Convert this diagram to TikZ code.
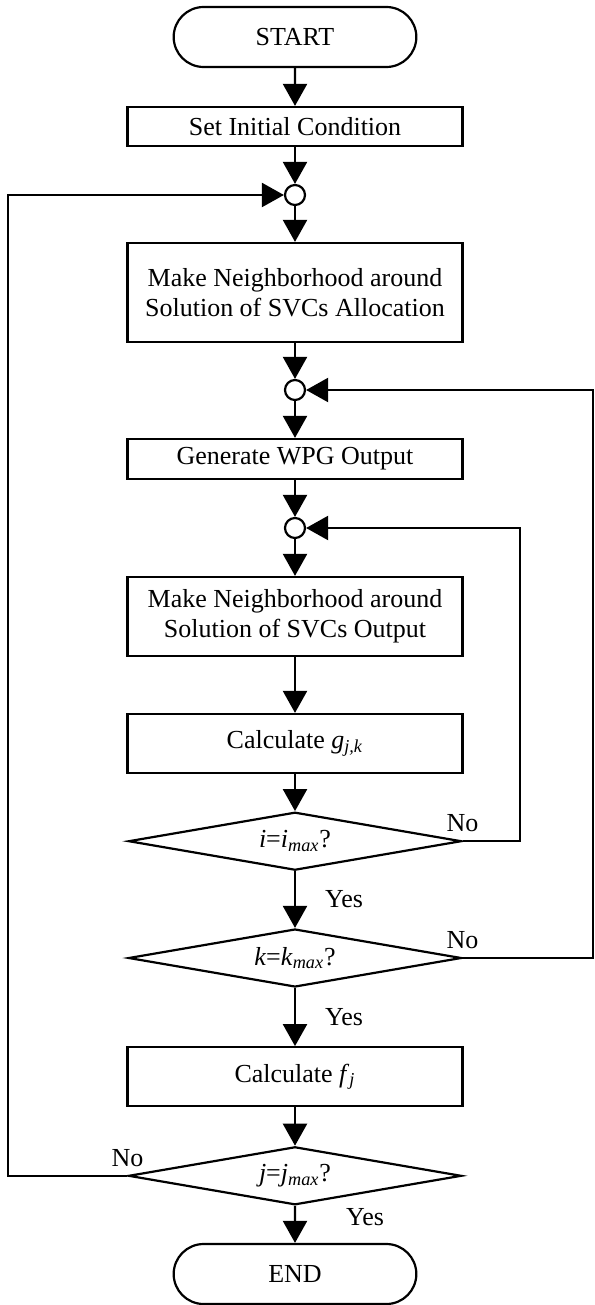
\documentclass[tikz,border=0pt]{standalone}
\usepackage{fontspec}
\setmainfont{Liberation Serif}
\usetikzlibrary{positioning,shapes.misc,shapes.geometric,arrows.meta}

\begin{document}
\begin{tikzpicture}[
  node distance = 18.4pt,
  line width = 1.1pt,
  every node/.style = {font=\fontsize{13pt}{15pt}\selectfont},
  term/.style = {draw, rounded rectangle, minimum width=128pt, minimum height=30pt},
  box/.style = {draw, minimum width=167.5pt, align=center, inner sep=2pt},
  decision/.style = {draw, diamond, aspect=5.74, minimum width=166.5pt, minimum height=29pt, inner sep=0pt},
  joint/.style = {draw, circle, fill=white, minimum size=10pt, inner sep=0pt},
  lbl/.style = {inner sep=1pt},
  arr/.style = {-{Triangle[length=11pt,width=12pt]}}]

 \useasboundingbox (0,0) rectangle (297pt,-652.5pt);

 \node[term] (start) at (147.5pt,-18.5pt) {START};
 \node[box, minimum height=19.5pt, below=18.9pt of start] (init) {Set Initial Condition};
 \node[joint, below=of init] (c1) {};
 \node[box, minimum height=49.5pt, below=17.9pt of c1] (alloc)
      {Make Neighborhood around\\Solution of SVCs Allocation};
 \node[joint, below=17.9pt of alloc] (c2) {};
 \node[box, minimum height=20pt, below=of c2] (wpg) {Generate WPG Output};
 \node[joint, below=of wpg] (c3) {};
 \node[box, minimum height=39.5pt, below=of c3] (svc)
      {Make Neighborhood around\\Solution of SVCs Output};
 \node[box, minimum height=29.5pt, below=27.9pt of svc] (calcg)
      {Calculate \textit{g}\textsubscript{\textit{j,k}}};
 \node[decision, below=18.5pt of calcg] (di)
      {\textit{i}=\textit{i}\textsubscript{\textit{max}}?};
 \node[decision, below=28.3pt of di] (dk)
      {\textit{k}=\textit{k}\textsubscript{\textit{max}}?};
 \node[box, minimum height=29.5pt, below=29pt of dk] (calcf)
      {Calculate \textit{f}\textsubscript{\textit{j}}};
 \node[decision, below=19.2pt of calcf] (dj)
      {\textit{j}=\textit{j}\textsubscript{\textit{max}}?};
 \node[term, below=18.5pt of dj] (end) {END};

 % loop columns
 \coordinate (lft) at (4pt,0);
 \coordinate (inr) at (260pt,0);
 \coordinate (outr) at (296.4pt,0);

 \node[lbl, above=3pt] (noi) at (di.east) {No};
 \node[lbl, above=3pt] (nok) at (dk.east) {No};
 \node[lbl, above=3pt] (noj) at (dj.west) {No};

 \begin{scope}[arr]
  \draw (start) -- (init);
  \draw (init) -- (c1);
  \draw (c1) -- (alloc);
  \draw (alloc) -- (c2);
  \draw (c2) -- (wpg);
  \draw (wpg) -- (c3);
  \draw (c3) -- (svc);
  \draw (svc) -- (calcg);
  \draw (calcg) -- (di);
  \draw (di) -- node[lbl, right=13.5pt] (yesi) {Yes} (dk);
  \draw (dk) -- node[lbl, right=13.5pt] (yesk) {Yes} (calcf);
  \draw (calcf) -- (dj);
  \draw (dj) -- node[lbl, pos=0.3, right=24pt] (yesj) {Yes} (end);
  \draw (di.east) -- (di.east -| inr) |- (c3);
  \draw (dk.east) -- (dk.east -| outr) |- (c2);
  \draw (dj.west) -- (dj.west -| lft) |- (c1);
 \end{scope}
\end{tikzpicture}
\end{document}
